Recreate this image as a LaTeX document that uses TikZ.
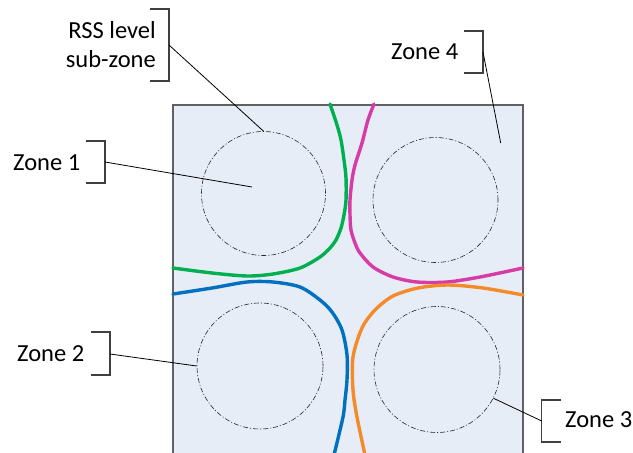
\documentclass[tikz,border=0pt]{standalone}
\usepackage{fontspec}
\setmainfont{Carlito}
\begin{document}
\begin{tikzpicture}[x=1pt,y=-1pt,
  lbl/.style={font=\fontsize{24.5}{29}\selectfont, inner sep=0pt, align=right},
  brk/.style={draw=black!75, line width=1.2pt},
  lead/.style={draw=black, line width=0.8pt},
  subzone/.style={circle, draw=black!85, line width=0.6pt,
    dash pattern=on 5pt off 2pt on 1pt off 2pt, inner sep=0pt},
  border/.style={line width=3.4pt, line cap=round, line join=round}]
\clip (0,0) rectangle (633,453);
\useasboundingbox (0,0) rectangle (633,453);

\definecolor{areafill}{HTML}{E7EDF7}
\definecolor{zgreen}{HTML}{00B050}
\definecolor{zmag}{HTML}{D63BA6}
\definecolor{zblue}{HTML}{0070C0}
\definecolor{zorange}{HTML}{F58A2A}

% area
\fill[areafill] (173,105) rectangle (523,470);
\draw[black!62, line width=1.6pt] (173,470) -- (173,105) -- (523,105) -- (523,470);

% sub-zones
\node[subzone, minimum size=124pt] (c1) at (263.5,193.5) {};
\node[subzone, minimum size=125pt] (c4) at (435.5,200) {};
\node[subzone, minimum size=126pt] (c2) at (260,366) {};
\node[subzone, minimum size=126pt] (c3) at (437,369.5) {};

% zone borders
\draw[border, zgreen] plot[smooth, tension=0.5] coordinates {(330,104) (337,125) (341,140) (344,160) (346,178) (346,200) (344,215) (341,228) (336,240) (330,248) (320,257) (300,268) (273,274) (247,276) (212,273) (173,268)};
\draw[border, zmag] plot[smooth, tension=0.5] coordinates {(374,104) (368,120) (362,143) (355,165) (352,180) (350,200) (350,215) (351,230) (355,243) (360,253) (373,267) (393,277) (417,282) (447,282) (480,277) (523,268)};
\draw[border, zblue] plot[smooth, tension=0.5] coordinates {(173,294) (212,288) (247,282) (273,282) (300,287) (320,300) (332,312) (342,330) (347,355) (347,380) (345,400) (343,417) (334,455)};
\draw[border, zorange] plot[smooth, tension=0.5] coordinates {(523,295) (483,288) (448,285) (418,288) (393,296) (375,310) (362,328) (353,357) (353,390) (357,417) (365,455)};

% labels
\node[lbl, anchor=east] (rss) at (156,45) {RSS level\\sub-zone};
\node[lbl, anchor=west] (z1) at (13,163) {Zone 1};
\node[lbl, anchor=west] (z4) at (391,52) {Zone 4};
\node[lbl, anchor=west] (z2) at (17,354) {Zone 2};
\node[lbl, anchor=west] (z3) at (565,420) {Zone 3};

% brackets
\coordinate (rssb) at (169,45);
\draw[brk] (150,9) -- (169,9) -- (169,81) -- (150,81);
\coordinate (z1b) at (105,162);
\draw[brk] (86,141) -- (105,141) -- (105,183) -- (86,183);
\coordinate (z4b) at (483,52);
\draw[brk] (464,31) -- (483,31) -- (483,73) -- (464,73);
\coordinate (z2b) at (110,354);
\draw[brk] (91,332) -- (110,332) -- (110,375) -- (91,375);
\coordinate (z3b) at (541.7,421);
\draw[brk] (561,400) -- (541.7,400) -- (541.7,442) -- (561,442);

% leader lines
\coordinate (z1p) at (252,187);
\coordinate (z4p) at (500.7,143);
\draw[lead] (rssb) -- (c1.north);
\draw[lead] (z1b) -- (z1p);
\draw[lead] (z4b) -- (z4p);
\draw[lead] (z2b) -- (c2.west);
\draw[lead] (z3b) -- (c3.-27);
\end{tikzpicture}
\end{document}
